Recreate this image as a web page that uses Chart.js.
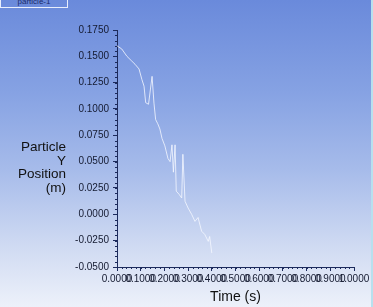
<!DOCTYPE html>
<html><head><meta charset="utf-8">
<script src="https://cdn.jsdelivr.net/npm/chart.js@4"></script>
<style>
html,body{margin:0;padding:0;width:373px;height:307px;overflow:hidden;}
body{background:linear-gradient(to bottom,#6a8adb 0%,#86a2e3 30%,#a6bbea 55%,#cfdaf2 80%,#edf1fa 100%);position:relative;font-family:"Liberation Sans",Arial,sans-serif;}
#c{position:absolute;left:0;top:0;}
#ytitle{position:absolute;right:307px;top:140px;text-align:right;font-size:13.5px;line-height:13.5px;color:#111;}
#tab{position:absolute;left:0;top:-4px;width:66px;height:10px;border:1px solid #e8eefc;font-size:8px;line-height:10px;text-align:center;color:#1a2a6a;}
#edge{position:absolute;right:0;top:0;width:2px;height:307px;background:#b8e0ee;}
</style></head>
<body>
<div id="tab">particle-1</div>
<canvas id="c" width="373" height="307"></canvas>
<div id="ytitle">Particle<br>Y<br>Position<br>(m)</div>
<div id="edge"></div>
<script>
const timeS = [0.000,0.020,0.042,0.060,0.076,0.093,0.105,0.114,0.121,0.133,0.148,0.156,0.163,0.172,0.181,0.190,0.202,0.215,0.224,0.232,0.238,0.245,0.250,0.262,0.273,0.278,0.287,0.300,0.315,0.329,0.342,0.357,0.370,0.378,0.385,0.391,0.400];
const yPos = [0.160,0.157,0.150,0.146,0.1425,0.138,0.128,0.1217,0.106,0.1045,0.131,0.1055,0.090,0.086,0.081,0.072,0.065,0.053,0.050,0.066,0.040,0.066,0.022,0.019,0.0155,0.057,0.0124,0.006,0.000,-0.0067,-0.003,-0.016,-0.019,-0.0225,-0.0257,-0.021,-0.0368];
const xTicks = [0,0.1,0.2,0.3,0.4,0.5,0.6,0.7,0.8,0.9,1.0];
const yTicks = [-0.05,-0.025,0,0.025,0.05,0.075,0.1,0.125,0.15,0.175];

const axisColor = '#1c2a5c';
const textColor = '#141a30';
const fam = '"Liberation Sans", Arial, sans-serif';

const minorTicks = {
  id:'minorTicks',
  afterDraw(chart){
    const ctx = chart.ctx, xs = chart.scales.x, ys = chart.scales.y;
    ctx.save();
    ctx.strokeStyle = axisColor; ctx.lineWidth = 1;
    ctx.beginPath();
    for(let i=0;i<=45;i++){
      const v = -0.05 + i*0.005;
      const p = Math.round(ys.getPixelForValue(v))+0.5;
      ctx.moveTo(xs.left-2, p); ctx.lineTo(xs.left, p);
    }
    for(let i=0;i<=50;i++){
      const v = i*0.02;
      const p = Math.round(xs.getPixelForValue(v))+0.5;
      ctx.moveTo(p, ys.bottom); ctx.lineTo(p, ys.bottom+2);
    }
    ctx.stroke();
    ctx.restore();
  }
};

new Chart(document.getElementById('c'), {
  type:'scatter',
  data:{datasets:[{
    data: timeS.map((t,i)=>({x:t,y:yPos[i]})),
    showLine:true, borderColor:'rgba(245,248,255,0.8)', borderWidth:1,
    pointRadius:0, tension:0
  }]},
  options:{
    responsive:false, animation:false,
    layout:{padding:{left:0,right:19,top:30,bottom:0}},
    plugins:{legend:{display:false},tooltip:{enabled:false}},
    scales:{
      x:{type:'linear',min:0,max:1,
        afterBuildTicks:s=>{s.ticks = xTicks.map(v=>({value:v}));},
        afterFit:s=>{s.height=40;},
        border:{display:true,color:axisColor,width:1},
        grid:{drawOnChartArea:false,drawTicks:true,tickLength:4,color:axisColor},
        ticks:{autoSkip:false,maxRotation:0,minRotation:0,padding:2,color:textColor,
          font:{family:fam,size:10},
          callback:v=>Number(v).toFixed(4)},
        title:{display:true,text:'Time (s)',color:'#111',
          font:{family:fam,size:14},padding:{top:0,bottom:1}}
      },
      y:{type:'linear',min:-0.05,max:0.175,
        afterBuildTicks:s=>{s.ticks = yTicks.map(v=>({value:v}));},
        afterFit:s=>{s.width=117;},
        border:{display:true,color:axisColor,width:1},
        grid:{drawOnChartArea:false,drawTicks:true,tickLength:4,color:axisColor},
        ticks:{autoSkip:false,padding:4,color:textColor,
          font:{family:fam,size:10},
          callback:v=>Number(v).toFixed(4)}
      }
    }
  },
  plugins:[minorTicks]
});
</script>
</body></html>
